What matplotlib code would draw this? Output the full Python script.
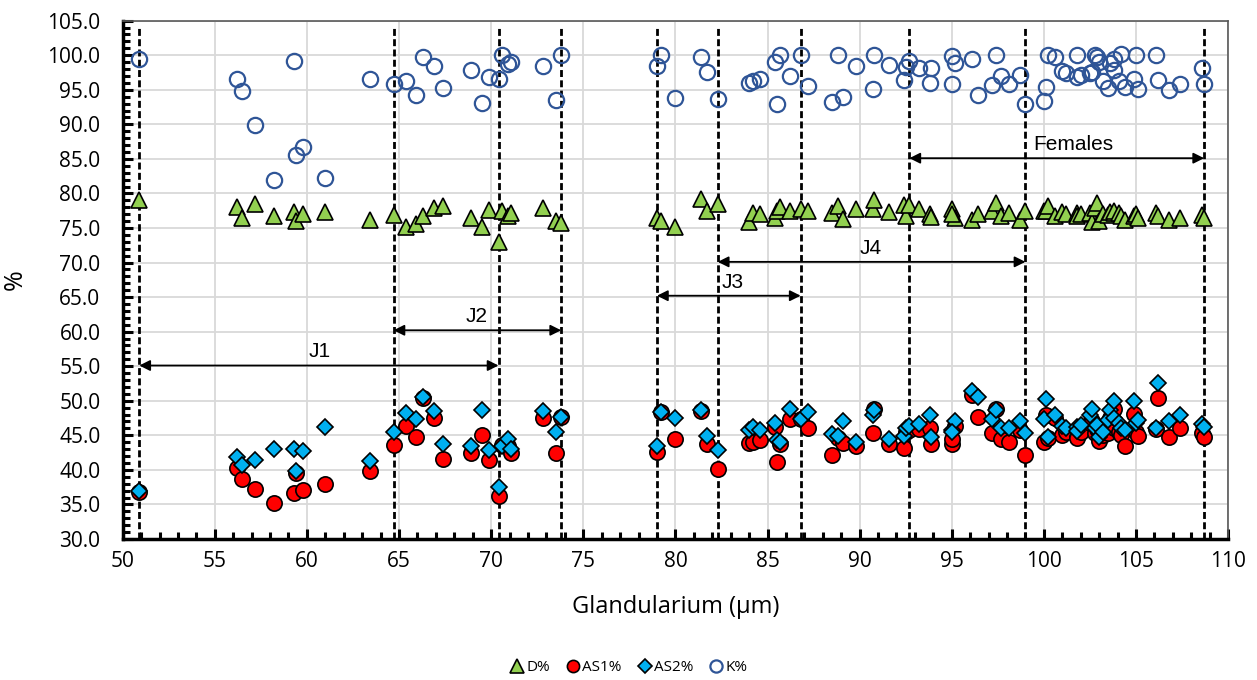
import numpy as np
import matplotlib
matplotlib.use("Agg")
import matplotlib.pyplot as plt
from matplotlib.ticker import MultipleLocator, FormatStrFormatter

# glandularium length per specimen and the four percentages
glandularium = [50.9, 56.2, 56.5, 57.2, 58.2, 59.3, 59.4, 59.8, 61.0, 63.4,
                64.7, 65.4, 65.9, 66.3, 66.9, 67.4, 68.9, 69.5, 69.9, 70.4,
                70.6, 70.9, 71.1, 72.8, 73.5, 73.8, 79.0, 79.2, 80.0, 81.4,
                81.7, 82.3, 84.0, 84.2, 84.6, 85.4, 85.5, 85.7, 86.2, 86.8,
                87.2, 88.5, 88.8, 89.1, 89.8, 90.7, 90.8, 91.6, 92.4, 92.5,
                92.7, 93.2, 93.8, 93.9, 95.0, 95.2, 95.0, 96.1, 96.4, 97.2,
                97.4, 97.7, 98.1, 98.7, 99.0, 100.0, 100.1, 100.2, 100.6, 101.0,
                101.2, 101.8, 101.8, 102.0, 102.5, 102.6, 102.8, 102.9, 103.0, 103.2,
                103.5, 103.6, 103.8, 103.8, 104.1, 104.2, 104.4, 104.9, 105.0, 105.1,
                106.1, 106.2, 106.8, 107.4, 108.6, 108.7]

d_pct = [79.0, 78.1, 76.5, 78.5, 76.8, 77.3, 76.0, 77.0, 77.3, 76.2,
         76.9, 75.2, 75.6, 76.7, 77.9, 78.2, 76.5, 75.2, 77.6, 73.0,
         77.4, 76.7, 77.2, 77.9, 76.0, 75.7, 76.5, 76.0, 75.2, 79.2,
         77.5, 78.4, 75.8, 77.2, 77.0, 76.5, 77.5, 78.1, 77.5, 77.7,
         77.4, 77.2, 78.2, 76.3, 77.7, 77.8, 79.1, 77.3, 78.3, 76.7,
         78.3, 77.8, 77.0, 76.6, 77.8, 76.4, 77.0, 76.2, 77.0, 77.4,
         78.6, 76.7, 77.2, 76.2, 77.4, 77.5, 77.4, 78.2, 76.7, 77.3,
         77.0, 77.2, 76.8, 77.0, 77.2, 75.8, 77.9, 78.6, 76.0, 77.0,
         76.9, 77.3, 77.2, 77.5, 77.1, 76.8, 76.2, 76.8, 77.0, 76.5,
         77.2, 76.7, 76.2, 76.5, 76.9, 76.5]

as1_pct = [36.8, 40.3, 38.7, 37.2, 35.2, 36.7, 39.6, 37.1, 38.0, 39.8,
           43.6, 46.4, 44.8, 50.4, 47.5, 41.6, 42.5, 45.1, 41.4, 36.2,
           43.6, 43.5, 42.5, 47.5, 42.5, 47.6, 42.6, 48.4, 44.5, 48.5,
           43.7, 40.1, 43.9, 44.1, 44.3, 46.2, 41.2, 43.8, 47.3, 47.3,
           46.1, 42.1, 44.6, 43.9, 43.5, 45.4, 48.8, 43.7, 43.2, 45.5,
           45.8, 45.9, 46.1, 43.7, 43.8, 46.4, 44.5, 50.9, 47.6, 45.3,
           48.8, 44.5, 44.0, 45.8, 42.1, 44.0, 48.0, 44.6, 47.5, 45.0,
           45.5, 44.7, 44.6, 45.5, 46.8, 47.0, 45.4, 45.9, 44.2, 45.0,
           45.4, 47.5, 48.8, 46.0, 45.5, 45.0, 43.5, 48.1, 45.5, 44.9,
           45.9, 50.4, 44.7, 46.0, 45.4, 44.7]

as2_pct = [37.0, 41.8, 40.7, 41.4, 43.0, 43.0, 39.8, 42.8, 46.2, 41.3,
           45.5, 48.3, 47.4, 50.6, 48.5, 43.8, 43.5, 48.6, 42.9, 37.5,
           43.5, 44.5, 43.0, 48.5, 45.5, 47.7, 43.4, 48.4, 47.5, 48.6,
           44.9, 42.9, 45.8, 46.2, 45.8, 46.8, 44.3, 44.0, 48.8, 47.3,
           48.4, 45.2, 44.9, 47.1, 44.1, 47.9, 48.7, 44.4, 44.9, 46.1,
           46.4, 46.7, 47.9, 44.7, 45.8, 47.1, 45.5, 51.4, 50.6, 47.3,
           48.7, 46.1, 46.0, 47.1, 45.4, 47.4, 50.3, 44.8, 48.0, 46.4,
           46.0, 46.2, 45.6, 46.5, 47.9, 48.8, 46.1, 46.5, 44.7, 45.5,
           47.2, 48.6, 50.0, 47.5, 46.8, 46.0, 45.7, 49.9, 46.8, 47.2,
           46.0, 52.5, 47.1, 48.0, 46.6, 46.2]

k_pct = [99.5, 96.6, 94.8, 89.9, 82.0, 99.2, 85.5, 86.7, 82.3, 96.6,
         95.8, 96.3, 94.3, 99.8, 98.5, 95.2, 97.8, 93.1, 96.9, 96.6,
         100.1, 98.8, 99.0, 98.5, 93.5, 100.1, 98.4, 100.1, 93.8, 99.8,
         97.6, 93.6, 96.0, 96.2, 96.5, 99.0, 93.0, 100.1, 97.0, 100.1,
         95.5, 93.3, 100.1, 94.0, 98.5, 95.1, 100.1, 98.6, 96.4, 98.3,
         99.2, 98.2, 96.0, 98.2, 99.9, 98.9, 95.9, 99.4, 94.2, 95.7,
         100.1, 97.0, 95.8, 97.2, 93.0, 93.4, 95.4, 100.1, 99.7, 97.7,
         97.5, 96.8, 100.1, 97.2, 97.4, 97.6, 100.0, 99.75, 99.0, 96.3,
         95.2, 98.9, 97.8, 99.4, 96.3, 100.2, 95.4, 96.6, 100.0, 95.1,
         100.0, 96.4, 95.0, 95.9, 98.1, 95.8]

# group boundaries (dashed lines) and the arrows between them
boundaries = [50.9, 64.7, 70.4, 73.8, 79.0, 82.3, 86.8, 92.7, 99.0, 108.7]
groups = ["J1", "J2", "J3", "J4", "Females"]
group_start = [50.9, 64.7, 79.0, 82.3, 92.7]
group_end = [70.4, 73.8, 86.8, 99.0, 108.7]
group_level = [55.1, 60.2, 65.2, 70.1, 85.1]
group_label_x = [60.7, 69.2, 83.1, 90.6, 101.6]

fig = plt.figure(figsize=(12.57, 6.80), dpi=100)
ax = fig.add_axes([0.0976, 0.2074, 0.8794, 0.7622])

for xb in boundaries:
    ax.plot([xb, xb], [30, 103.9], color="black", ls=(0, (2.5, 1.2)), lw=2, zorder=2)

ax.plot(glandularium, d_pct, ls="none", marker="^", ms=12, mfc="#92D050",
        mec="black", mew=1.2, label="D%", zorder=3)
ax.plot(glandularium, as1_pct, ls="none", marker="o", ms=11, mfc="#FF0000",
        mec="black", mew=1.2, label="AS1%", zorder=4)
ax.plot(glandularium, as2_pct, ls="none", marker="D", ms=8.5, mfc="#00B0F0",
        mec="black", mew=1.2, label="AS2%", zorder=5)
ax.plot(glandularium, k_pct, ls="none", marker="o", ms=11, mfc="none",
        mec="#2F5597", mew=1.6, label="K%", zorder=6)

for name, x0, x1, yl, xt in zip(groups, group_start, group_end, group_level, group_label_x):
    ax.annotate("", xy=(x1, yl), xytext=(x0, yl),
                arrowprops=dict(arrowstyle="<|-|>", color="black", lw=1.3,
                                mutation_scale=16, shrinkA=0, shrinkB=0), zorder=7)
    ax.text(xt, yl + 0.6, name, ha="center", va="bottom", fontsize=15,
            family="Liberation Sans", zorder=7)

ax.set_xlim(50, 110)
ax.set_ylim(30, 105)
ax.xaxis.set_major_locator(MultipleLocator(5))
ax.xaxis.set_minor_locator(MultipleLocator(1))
ax.yaxis.set_major_locator(MultipleLocator(5))
ax.yaxis.set_minor_locator(MultipleLocator(1))
ax.yaxis.set_major_formatter(FormatStrFormatter("%.1f"))
ax.grid(True, which="major", color="#D9D9D9", lw=1.3)
ax.set_axisbelow(True)

ax.tick_params(which="both", direction="in", width=2.2, labelsize=15,
               top=False, right=False)
ax.tick_params(axis="y", which="both", pad=16)
ax.tick_params(axis="x", which="both", pad=9)
ax.tick_params(which="major", length=7)
ax.tick_params(which="minor", length=5)
for lab in ax.get_xticklabels() + ax.get_yticklabels():
    lab.set_family("Open Sans")

ax.spines["left"].set_linewidth(2.5)
ax.spines["bottom"].set_linewidth(2.5)
for s in ("top", "right"):
    ax.spines[s].set_linewidth(1.2)
    ax.spines[s].set_color("#595959")

ax.set_xlabel("Glandularium (µm)", fontsize=17, family="Open Sans", labelpad=16)
ax.set_ylabel("%", fontsize=18, family="Open Sans")
ax.yaxis.set_label_coords(-0.086, 0.5)

leg = fig.legend(loc="center", bbox_to_anchor=(0.5, 0.018), ncol=4, frameon=False,
                 handletextpad=0.1, columnspacing=1.0,
                 markerscale=0.8, handlelength=1.0, prop={"family": "Open Sans", "size": 11})

fig.savefig("out.png", dpi=100)
